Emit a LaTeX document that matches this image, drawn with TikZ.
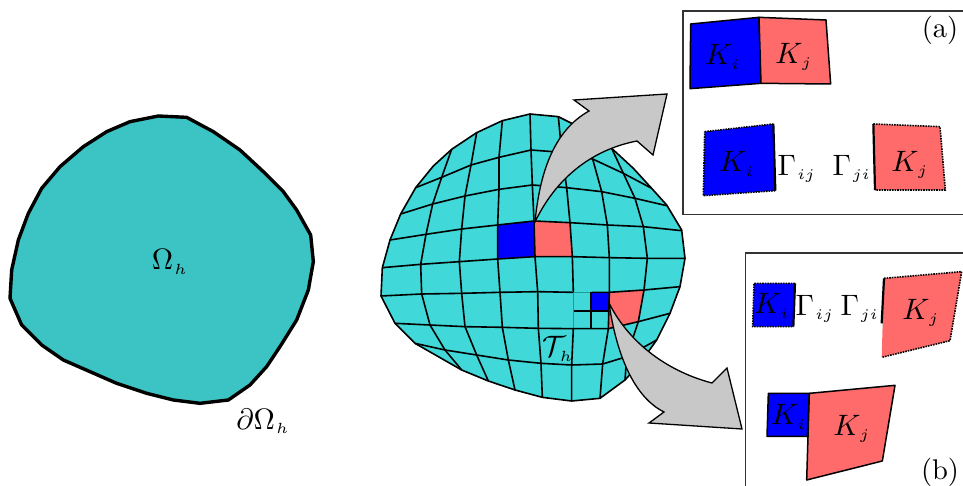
\documentclass[tikz,border=0pt]{standalone}
\newcommand{\sbs}[1]{_{\scriptscriptstyle\mkern1mu #1}}
\definecolor{domc}{HTML}{3CC3C3}
\definecolor{meshc}{HTML}{40D8D8}
\definecolor{faintc}{HTML}{1E9C9C}
\definecolor{bluec}{HTML}{0000FF}
\definecolor{redc}{HTML}{FF6B6B}
\definecolor{greyc}{HTML}{C8C8C8}
\tikzset{
  lab/.style={inner sep=0pt,scale=2.95,text=black},
  tag/.style={inner sep=0pt,scale=2.85,text=black},
  meshline/.style={draw=black,line width=1.6pt,line join=round},
  bluecell/.style={fill=bluec,draw=black,line width=1.5pt,line join=round},
  redcell/.style={fill=redc,draw=black,line width=1.5pt,line join=round},
  dotcell/.style={draw=black,line width=1.6pt,densely dotted},
  edgeline/.style={draw=black,line width=2.2pt},
  panel/.style={draw=black!80,line width=1.2pt},
  bigarrow/.style={fill=greyc,draw=black,line width=1.3pt,line join=miter},
}
\begin{document}
\begin{tikzpicture}[x=1pt,y=-1pt]
\useasboundingbox (0,0) rectangle (963,486);
% left domain
\begin{scope}[shift={(0,100)},scale=1/3]
\draw[fill=domc,draw=black,line width=3.4pt,line join=round]
 (30,595)--(35,510)--(55,420)--(85,340)--(125,265)--(180,200)--(250,140)--(320,95)--(390,65)--(475,48)--(560,52)--(640,95)--(720,150)--(790,215)--(850,275)--(890,330)--(932,405)--(940,485)--(925,570)--(890,660)--(840,740)--(800,800)--(750,855)--(685,900)--(600,910)--(520,900)--(440,880)--(350,850)--(270,815)--(190,780)--(125,735)--(65,675)--cycle;
\end{scope}
\node[lab] (omega) at (170,262) {$\Omega\sbs{h}$};
\node[lab] (bomega) at (263,421) {$\partial\Omega\sbs{h}$};
% mesh
\begin{scope}[shift={(370,90)},scale=1/3]
\fill[meshc] (33,618)--(37,533)--(60,450)--(92,372)--(137,293)--(190,228)--(245,178)--(320,128)--(397,92)--(480,72)--(565,80)--(615,105)--(670,140)--(725,175)--(790,235)--(845,295)--(890,345)--(935,420)--(945,505)--(930,590)--(900,670)--(860,750)--(810,820)--(765,870)--(690,925)--(605,933)--(517,922)--(435,900)--(355,873)--(275,840)--(205,800)--(135,760)--(75,700)--cycle;
\fill[redc] (492,393)--(600,398)--(607,500)--(495,500)--cycle;
\fill[bluec] (383,405)--(492,393)--(495,500)--(383,507)--cycle;
\fill[redc] (718,607)--(822,600)--(805,695)--(715,716)--cycle;
\fill[bluec] (665,610)--(718,610)--(718,663)--(665,663)--cycle;
\draw[meshline] (33,618)--(37,533)--(60,450)--(92,372)--(137,293)--(190,228)--(245,178)--(320,128)--(397,92)--(480,72)--(565,80)--(615,105)--(670,140)--(725,175)--(790,235)--(845,295)--(890,345)--(935,420)--(945,505)--(930,590)--(900,670)--(860,750)--(810,820)--(765,870)--(690,925)--(605,933)--(517,922)--(435,900)--(355,873)--(275,840)--(205,800)--(135,760)--(75,700)--cycle;
% rows
\draw[meshline] (137,293)--(215,262)--(303,225)--(387,202)--(483,180)--(575,187)--(668,207)--(760,250)--(845,295);
\draw[meshline] (92,372)--(188,342)--(285,318)--(387,298)--(487,285)--(590,293)--(695,305)--(795,325)--(890,347);
\draw[meshline] (60,450)--(168,433)--(275,417)--(383,405)--(492,393)--(600,398)--(712,405)--(820,410)--(935,422);
\draw[meshline] (37,533)--(152,523)--(268,515)--(383,507)--(495,500)--(607,500)--(718,503)--(832,505)--(945,505);
\draw[meshline] (33,618)--(155,612)--(275,610)--(390,607)--(503,605)--(610,607);
\draw[draw=faintc,line width=1.1pt] (610,607)--(665,607) (610,607)--(610,716);
\draw[meshline] (665,607)--(718,607)--(822,600)--(930,590);
\draw[meshline] (75,700)--(180,705)--(285,710)--(397,712)--(505,715)--(610,716)--(715,716)--(805,695)--(900,670);
\draw[meshline] (135,760)--(225,780)--(320,795)--(415,810)--(513,820)--(605,825)--(698,822)--(770,800)--(860,750);
% columns
\draw[meshline] (245,178)--(215,262)--(188,342)--(168,433)--(152,523)--(155,612)--(180,705)--(225,780)--(275,840);
\draw[meshline] (320,128)--(303,225)--(285,318)--(275,417)--(268,515)--(275,610)--(285,710)--(320,795)--(355,873);
\draw[meshline] (397,92)--(387,202)--(387,298)--(383,405)--(383,507)--(390,607)--(397,712)--(415,810)--(435,900);
\draw[meshline] (480,72)--(483,180)--(487,285)--(492,393)--(495,500)--(503,605)--(505,715)--(513,820)--(517,922);
\draw[meshline] (565,80)--(575,187)--(590,293)--(600,398)--(607,500)--(610,607);
\draw[meshline] (610,716)--(605,825)--(605,933);
\draw[meshline] (668,207)--(695,305)--(712,405)--(718,503)--(718,607)--(715,716)--(698,822)--(690,925);
\draw[meshline] (725,175)--(760,250)--(795,325)--(820,410)--(832,505)--(822,600)--(805,695)--(770,800)--(765,870);
% refinement
\draw[draw=black,line width=1.2pt] (612,663)--(718,663) (663,607)--(663,716);
\end{scope}
\node[lab] (tau) at (558,349) {$\mathcal{T}\sbs{h}$};
% arrows
\draw[bigarrow] (535,222) .. controls (540,170) and (555,130) .. (589,111) -- (574,100) -- (667,94) -- (653,155) -- (637,141) .. controls (590,150) and (555,180) .. cycle;
\draw[bigarrow] (609,303) .. controls (615,345) and (630,395) .. (664,412) -- (649,423) -- (742,429) -- (727,368) -- (712,383) .. controls (670,372) and (630,345) .. cycle;
% panel a
\draw[panel] (963,11) -- (683,11) -- (683,214.5) -- (963,214.5);
\begin{scope}[shift={(670,0)},scale=1/3]
\draw[bluecell] (62,72)--(267,52)--(273,250)--(60,266)--cycle;
\draw[redcell] (267,52)--(468,60)--(482,252)--(273,250)--cycle;
\fill[bluec] (104,395)--(310,372)--(316,572)--(100,587)--cycle;
\draw[dotcell] (104,395)--(310,372) (316,572)--(100,587)--(104,395);
\draw[edgeline] (310,372)--(316,572);
\fill[redc] (610,372)--(810,380)--(826,570)--(615,570)--cycle;
\draw[dotcell] (610,372)--(810,380)--(826,570)--(615,570);
\draw[edgeline] (610,372)--(615,570);
\end{scope}
\node[lab] (akia) at (723,57) {$K\sbs{i}$};
\node[lab] (akja) at (794,57) {$K\sbs{j}$};
\node[lab] (akib) at (737,164) {$K\sbs{i}$};
\node[lab] (gija) at (797,169) {$\Gamma\sbs{ij}$};
\node[lab] (gjia) at (852,169) {$\Gamma\sbs{ji}$};
\node[lab] (akjb) at (910,165) {$K\sbs{j}$};
\node[tag] (atext) at (940,30) {(a)};
% panel b
\draw[panel] (963,253) -- (745.5,253) -- (745.5,486);
\begin{scope}[shift={(700,245)},scale=1/3]
\fill[bluec] (162,115)--(285,115)--(280,245)--(158,245)--cycle;
\draw[dotcell] (285,115)--(162,115)--(158,245)--(280,245);
\draw[edgeline] (285,115)--(280,245);
\fill[redc] (552,100)--(785,80)--(750,287)--(545,337)--cycle;
\draw[dotcell] (552,100)--(785,80)--(750,287)--(545,337);
\draw[edgeline] (552,100)--(545,235);
\draw[bluecell] (205,445)--(328,445)--(322,574)--(201,574)--cycle;
\draw[redcell] (328,445)--(585,421)--(547,648)--(320,705)--cycle;
\end{scope}
\node[lab] (bkia) at (772,306) {$K\sbs{i}$};
\node[lab] (gijb) at (815,309) {$\Gamma\sbs{ij}$};
\node[lab] (gjib) at (860,309) {$\Gamma\sbs{ji}$};
\node[lab] (bkja) at (921,313) {$K\sbs{j}$};
\node[lab] (bkib) at (789,417) {$K\sbs{i}$};
\node[lab] (bkjb) at (852,429) {$K\sbs{j}$};
\node[tag] (btext) at (940,472) {(b)};
\end{tikzpicture}
\end{document}
